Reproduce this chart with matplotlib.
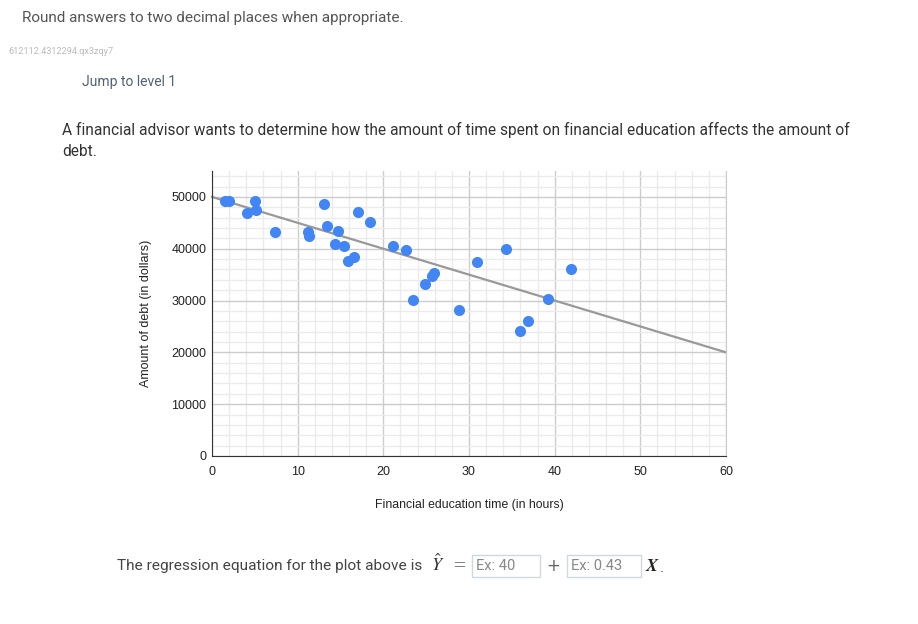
import matplotlib
matplotlib.use("Agg")
import matplotlib.pyplot as plt
from matplotlib.patches import Rectangle
import numpy as np

# ---- data ----
hours = [1.5, 2.0, 4.05, 5.0, 5.14, 7.4, 11.17, 11.3, 13.07, 13.4, 14.7, 14.36,
         15.45, 17.0, 18.5, 15.9, 16.57, 21.17, 22.7, 23.5, 24.9, 25.7, 25.95,
         28.87, 30.93, 34.27, 36.94, 35.98, 39.22, 41.87]
debt = [49300, 49200, 46900, 49230, 47400, 43300, 43300, 42400, 48600, 44400,
        43460, 40900, 40580, 47000, 45250, 37700, 38330, 40500, 39750, 30130,
        33140, 34800, 35250, 28140, 37370, 39870, 26090, 24100, 30320, 36020]
line_intercept = 50000
line_slope = -500
x_ticks = [0, 10, 20, 30, 40, 50, 60]
y_ticks = [0, 10000, 20000, 30000, 40000, 50000]

W, H = 918, 624
fig = plt.figure(figsize=(W / 100, H / 100), dpi=100)
fig.patch.set_facecolor("white")

def fx(px):
    return px / W

def fy(py):
    return 1 - py / H

# ---- page text ----
fig.text(fx(22), fy(18), "Round answers to two decimal places when appropriate.",
         family="Roboto", fontsize=11, color="#555555", va="center", ha="left")
fig.text(fx(8), fy(52), "612112.4312294.qx3zqy7", family="Roboto", fontsize=6.6,
         color="#bbbbbb", va="center", ha="left")
fig.text(fx(82), fy(82), "Jump to level 1", family="Roboto", fontsize=10,
         color="#53606f", va="center", ha="left")
fig.text(fx(62), fy(130),
         "A financial advisor wants to determine how the amount of time spent on financial education affects the amount of",
         family="Roboto", fontsize=11.2, color="#333333", va="center", ha="left")
fig.text(fx(62), fy(152), "debt.", family="Roboto", fontsize=11.2, color="#333333",
         va="center", ha="left")

# ---- chart ----
ax = fig.add_axes([fx(212), fy(456), fx(726) - fx(212), (456 - 171) / H])
ax.set_xlim(0, 60)
ax.set_ylim(0, 55000)
ax.set_xticks(x_ticks)
ax.set_yticks(y_ticks)
ax.set_xticks(np.arange(0, 61, 2), minor=True)
ax.set_yticks(np.arange(0, 55001, 2000), minor=True)
ax.grid(which="major", color="#cccccc", linewidth=1.0)
ax.grid(which="minor", color="#ebebeb", linewidth=1.0)
ax.set_axisbelow(True)
ax.tick_params(which="both", length=0)
ax.tick_params(axis="x", pad=7)
ax.tick_params(axis="y", pad=4)
for lab in ax.get_xticklabels() + ax.get_yticklabels():
    lab.set_family("Liberation Sans")
    lab.set_fontsize(9)
    lab.set_color("#222222")
ax.spines["top"].set_visible(False)
ax.spines["left"].set_color("#333333")
ax.spines["bottom"].set_color("#333333")
ax.spines["right"].set_color("#cccccc")

xl = np.array([0, 60])
ax.plot(xl, line_intercept + line_slope * xl, color="#999999", linewidth=1.6, zorder=2,
        clip_on=False)
ax.scatter(hours, debt, s=64, color="#4285F4", zorder=3, linewidths=0)

ax.set_xlabel("Financial education time (in hours)", family="Liberation Sans",
              fontsize=8.8, color="#222222", labelpad=15)
ax.set_ylabel("Amount of debt (in dollars)", family="Liberation Sans",
              fontsize=9, color="#222222", labelpad=14)

# ---- equation line ----
ty = fy(566)
fig.text(fx(117), ty, "The regression equation for the plot above is",
         family="Roboto", fontsize=11.1, color="#444444", va="center", ha="left")
fig.text(fx(431), fy(564), r"$\hat{Y}$", fontsize=13, color="#333333",
         va="center", ha="left", math_fontfamily="stix")
fig.text(fx(452), fy(566), "=", family="DejaVu Serif", fontsize=12, color="#666666",
         va="center", ha="left")
for (x0, x1, txt) in [(472, 540, "Ex: 40"), (567, 641, "Ex: 0.43")]:
    fig.patches.append(Rectangle((fx(x0), fy(577)), fx(x1) - fx(x0), (577 - 555) / H,
                                 transform=fig.transFigure, facecolor="white",
                                 edgecolor="#cfd8dc", linewidth=1))
    fig.text(fx(x0 + 4), ty, txt, family="Roboto", fontsize=10.5, color="#888888",
             va="center", ha="left")
fig.text(fx(546), fy(566), "+", family="DejaVu Sans", fontsize=12, color="#666666",
         va="center", ha="left")
fig.text(fx(645), fy(566), r"$\boldsymbol{X}$", fontsize=13, color="#222222",
         va="center", ha="left", math_fontfamily="stix")
fig.text(fx(660), fy(568), ".", family="Roboto", fontsize=11, color="#444444",
         va="center", ha="left")

fig.savefig("out.png", dpi=100)
